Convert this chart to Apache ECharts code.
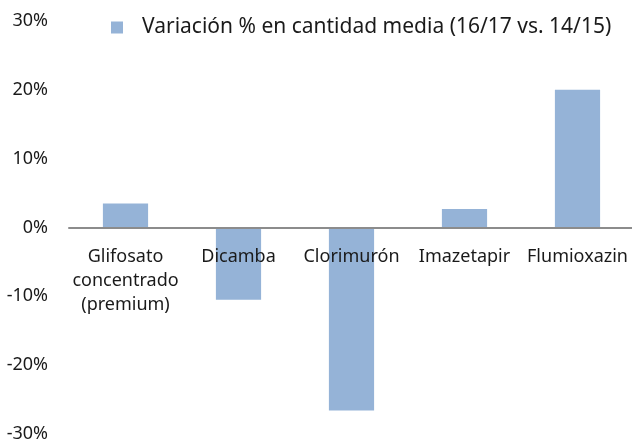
<!DOCTYPE html>
<html>
<head>
<meta charset="utf-8">
<script src="https://cdn.jsdelivr.net/npm/echarts@6/dist/echarts.min.js"></script>
<style>
  html, body { margin: 0; padding: 0; background: #fff; }
  #chart { width: 632px; height: 444px; }
</style>
</head>
<body>
<div id="chart"></div>
<script>
// categorias (eje x)
var categories = ['Glifosato\nconcentrado\n(premium)', 'Dicamba', 'Clorimurón', 'Imazetapir', 'Flumioxazin'];
// variacion % en cantidad media
var variacion = [3.5, -10.5, -26.6, 2.7, 20.0];
var seriesName = 'Variación % en cantidad media (16/17 vs. 14/15)';
// eje y
var yMin = -30, yMax = 30, yStep = 10;

var chart = echarts.init(document.getElementById('chart'));
var option = {
  animation: false,
  textStyle: { fontFamily: 'Noto Sans' },
  grid: { left: 69, right: -2, top: 21, bottom: 10, outerBoundsMode: 'none', containLabel: false },
  legend: {
    left: 106, top: 12,
    itemWidth: 12, itemHeight: 12,
    icon: 'rect',
    textStyle: { fontSize: 21, color: '#1a1a1a', fontFamily: 'Noto Sans', padding: [0, 0, 0, 14] },
    data: [seriesName]
  },
  xAxis: {
    type: 'category',
    data: categories,
    z: 10,
    position: 'bottom',
    offset: -206.6, // linea del 0%
    axisLine: { onZero: false, lineStyle: { color: '#8c8c8c', width: 2 } },
    axisTick: { show: false },
    axisLabel: { margin: 17, fontSize: 18, lineHeight: 24, color: '#1a1a1a', interval: 0 }
  },
  yAxis: {
    type: 'value',
    min: yMin, max: yMax, interval: yStep,
    splitLine: { show: false },
    axisLine: { show: false },
    axisTick: { show: false },
    axisLabel: { formatter: '{value}%', fontSize: 18, color: '#1a1a1a', margin: 21 }
  },
  series: [{
    name: seriesName,
    type: 'bar',
    data: variacion,
    barWidth: '40%',
    itemStyle: { color: '#95b3d7' }
  }]
};
chart.setOption(option);
</script>
</body>
</html>
